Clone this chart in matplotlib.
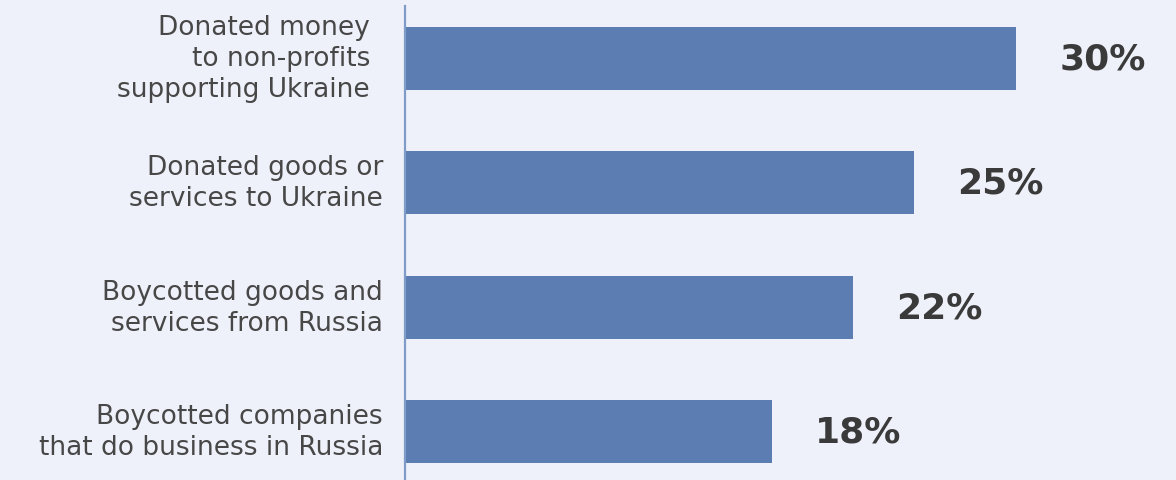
import matplotlib
matplotlib.use("Agg")
import matplotlib.pyplot as plt

categories = [
    "Donated money\nto non-profits\nsupporting Ukraine",
    "Donated goods or\nservices to Ukraine",
    "Boycotted goods and\nservices from Russia",
    "Boycotted companies\nthat do business in Russia",
]
values = [30, 25, 22, 18]
value_labels = ["30%", "25%", "22%", "18%"]

BG = "#EEF1F9"
BAR = "#5B7DB1"
AXIS = "#7F9CC8"
TEXT = "#474747"

W, H = 1176, 481
fig = plt.figure(figsize=(W / 100, H / 100), dpi=100, facecolor=BG)
ax = fig.add_axes([405 / W, 0, 771 / W, 474 / H])
ax.set_facecolor(BG)

ypos = list(range(len(values)))
ax.barh(ypos, values, height=0.507, color=BAR, zorder=2)

ax.set_xlim(0, 771 / 20.37)
ax.set_ylim(3.39, -0.422)

for s in ["top", "right", "bottom"]:
    ax.spines[s].set_visible(False)
ax.spines["left"].set_color(AXIS)
ax.spines["left"].set_linewidth(1.6)
ax.set_xticks([])
ax.set_yticks([])

# category labels, right aligned to the left of the axis
pads = [35, 22, 22, 22]
for y, lab, p in zip(ypos, categories, pads):
    ax.annotate(lab, xy=(0, y), xytext=(-p, 0), textcoords="offset pixels",
                ha="right", va="center", fontsize=19, color=TEXT,
                family="DejaVu Sans", linespacing=1.25)

# value labels
for y, v, lab in zip(ypos, values, value_labels):
    ax.annotate(lab, xy=(v, y), xytext=(43, 0), textcoords="offset pixels",
                ha="left", va="center", fontsize=26, color="#3a3a3a",
                family="DejaVu Sans", fontweight="bold")

fig.savefig("out.png", dpi=100, facecolor=BG)
